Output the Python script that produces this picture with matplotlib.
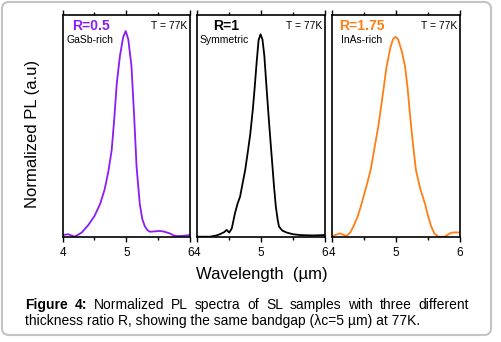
import matplotlib
matplotlib.use("Agg")
import matplotlib.pyplot as plt
from matplotlib.patches import FancyBboxPatch

plt.rcParams['font.family'] = ['Liberation Sans', 'DejaVu Sans']

# wavelength (um) / normalized PL
wl_gasb = [4.00, 4.09, 4.19, 4.30, 4.40, 4.50, 4.59, 4.66, 4.72, 4.77, 4.81, 4.85, 4.90, 4.95,
           4.99, 5.03, 5.08, 5.12, 5.16, 5.21, 5.25, 5.29, 5.33, 5.37, 5.45, 5.53, 5.60, 5.68,
           5.74, 5.79, 5.88, 6.00]
pl_gasb = [0.008, 0.012, 0.000, 0.020, 0.055, 0.100, 0.160, 0.230, 0.320, 0.420, 0.570, 0.745,
           0.880, 0.970, 1.000, 0.960, 0.830, 0.600, 0.340, 0.160, 0.085, 0.050, 0.032, 0.024,
           0.026, 0.028, 0.024, 0.016, 0.006, 0.003, 0.004, 0.008]

wl_sym = [4.00, 4.20, 4.30, 4.36, 4.42, 4.46, 4.50, 4.54, 4.59, 4.63, 4.67, 4.71, 4.75, 4.79,
          4.83, 4.87, 4.90, 4.93, 4.96, 4.99, 5.02, 5.05, 5.09, 5.13, 5.17, 5.20, 5.23, 5.26,
          5.28, 5.33, 5.40, 5.50, 5.61, 5.80, 6.00]
pl_sym = [0.000, 0.000, 0.006, 0.013, 0.022, 0.033, 0.020, 0.040, 0.114, 0.160, 0.195, 0.260,
          0.324, 0.410, 0.500, 0.620, 0.730, 0.850, 0.956, 0.984, 0.960, 0.880, 0.700, 0.530,
          0.370, 0.250, 0.146, 0.080, 0.049, 0.030, 0.020, 0.012, 0.008, 0.006, 0.008]

wl_inas = [4.00, 4.06, 4.12, 4.17, 4.22, 4.28, 4.33, 4.40, 4.46, 4.53, 4.60, 4.66, 4.72, 4.79,
           4.85, 4.91, 4.95, 4.99, 5.03, 5.09, 5.14, 5.18, 5.21, 5.26, 5.31, 5.38, 5.45, 5.50,
           5.55, 5.60, 5.66, 5.76, 5.82, 5.87, 5.94, 6.00]
pl_inas = [0.003, 0.010, 0.016, 0.010, 0.003, 0.020, 0.049, 0.100, 0.162, 0.240, 0.324, 0.430,
           0.535, 0.690, 0.826, 0.920, 0.960, 0.972, 0.960, 0.900, 0.826, 0.720, 0.616, 0.460,
           0.324, 0.230, 0.162, 0.100, 0.049, 0.015, 0.000, 0.000, 0.012, 0.020, 0.021, 0.020]

panels = [
    (wl_gasb, pl_gasb, '#8a1cf5', 'R=0.5', 'GaSb-rich', 0.075),
    (wl_sym, pl_sym, 'black', 'R=1', 'Symmetric', 0.125),
    (wl_inas, pl_inas, '#ff7f17', 'R=1.75', 'InAs-rich', 0.055),
]
sub_x = [0.03, 0.02, 0.065]

W, H = 501, 342
fig = plt.figure(figsize=(W / 100, H / 100), dpi=100)

lefts = [62.5, 197.3, 332.3]
for i, (wl, pl, col, rlab, sub, rx) in enumerate(panels):
    ax = fig.add_axes([lefts[i] / W, (H - 236.7) / H, 127.7 / W, 221.7 / H])
    ax.plot(wl, pl, color=col, lw=1.3)
    ax.set_xlim(4, 6)
    ax.set_ylim(0, 1.078)
    ax.set_xticks([4, 5, 6])
    ax.set_xticks([4.5, 5.5], minor=True)
    ax.set_yticks([])
    ax.tick_params(axis='x', which='major', direction='out', length=3.6, width=1.0,
                   labelsize=8.5, pad=3.5, top=True)
    ax.tick_params(axis='x', which='minor', direction='out', length=2.4, width=1.0, top=True)
    for s in ax.spines.values():
        s.set_linewidth(1.2)
    ax.text(rx, 0.95, rlab, transform=ax.transAxes, color=col, fontsize=10,
            fontweight='bold', ha='left', va='center')
    ax.text(sub_x[i], 0.889, sub, transform=ax.transAxes, fontsize=7.5,
            ha='left', va='center')
    ax.text(0.98, 0.95, 'T = 77K', transform=ax.transAxes, fontsize=7.5,
            ha='right', va='center')

fig.text(33 / W, 1 - 133.5 / H, 'Normalized PL (a.u)', rotation=90, fontsize=12,
         ha='center', va='center')
fig.text(262 / W, 1 - 275 / H, 'Wavelength  (\u00b5m)', fontsize=12,
         ha='center', va='center')

# caption, first line justified
line1 = [('Figure', 'bold'), ('4:', 'bold'), ('Normalized', 'normal'), ('PL', 'normal'),
         ('spectra', 'normal'), ('of', 'normal'), ('SL', 'normal'), ('samples', 'normal'),
         ('with', 'normal'), ('three', 'normal'), ('different', 'normal')]
x0, x1, y1 = 25, 469, 305
renderer = fig.canvas.get_renderer()
words = []
for w, wt in line1:
    t = fig.text(0, 1 - y1 / H, w, fontsize=10, fontweight=wt, ha='left', va='center')
    words.append(t)
widths = [t.get_window_extent(renderer).width for t in words]
gap = (x1 - x0 - sum(widths)) / (len(words) - 1)
x = x0
for t, wd in zip(words, widths):
    t.set_x(x / W)
    x += wd + gap
fig.text(x0 / W, 1 - 321 / H,
         'thickness ratio R, showing the same bandgap (\u03bbc=5 \u00b5m) at 77K.',
         fontsize=10, ha='left', va='center')

border = FancyBboxPatch((0.02, 0.07), 4.89, 3.33,
                        boxstyle='round,pad=0,rounding_size=0.07',
                        transform=fig.dpi_scale_trans, facecolor='none',
                        edgecolor='#c4c4c4', lw=1.5)
fig.patches.append(border)

fig.savefig('out.png', dpi=100)
